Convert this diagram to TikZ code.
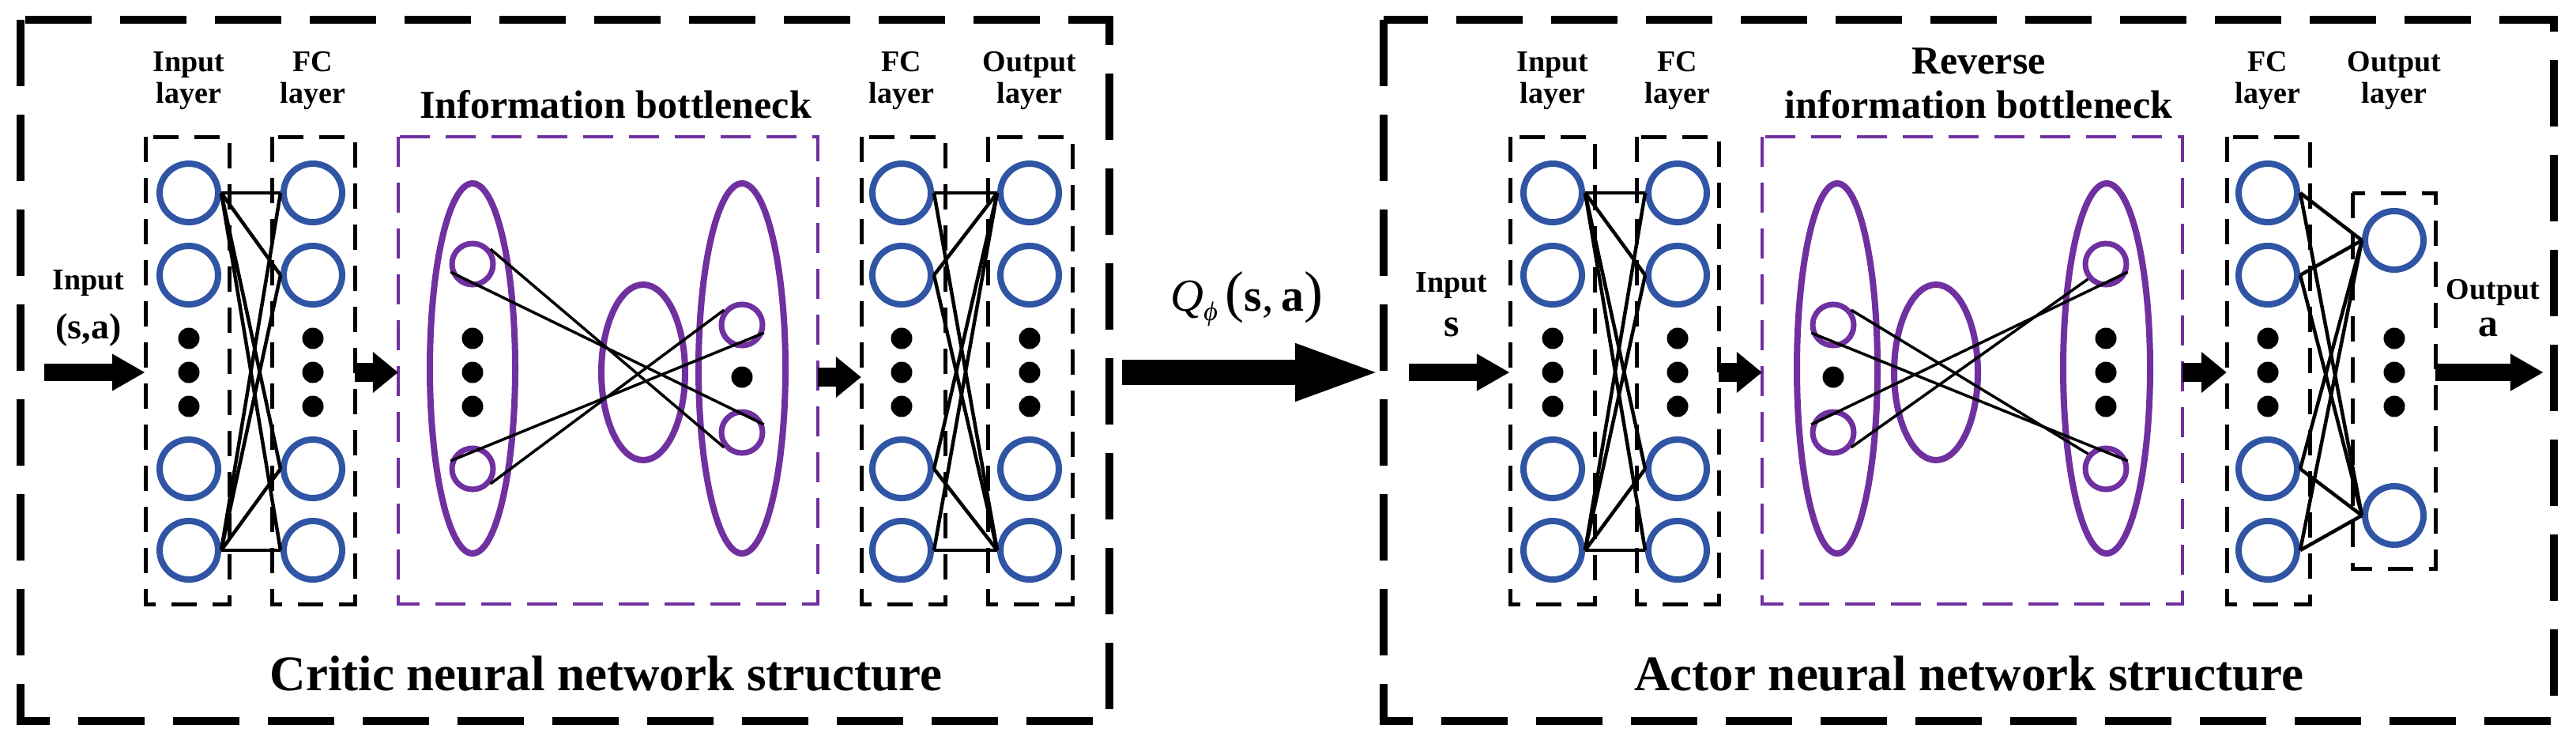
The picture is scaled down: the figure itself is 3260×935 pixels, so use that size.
\documentclass[tikz,border=0pt]{standalone}
\usepackage{fontspec}
\setmainfont{Liberation Serif}
\usetikzlibrary{arrows.meta,shapes.geometric}
\definecolor{nblue}{HTML}{2F55A4}
\definecolor{npurp}{HTML}{7030A0}
\begin{document}
\begin{tikzpicture}[x=1pt,y=-1pt,
  outer/.style={draw,line width=10pt,dash pattern=on 84pt off 36pt},
  layerbox/.style={draw,line width=5pt,dash pattern=on 32pt off 20pt},
  ibbox/.style={draw=npurp,line width=4pt,dash pattern=on 38pt off 20pt},
  neuron/.style={circle,draw=nblue,line width=8pt,minimum size=74pt,inner sep=0pt},
  pneuron/.style={circle,draw=npurp,line width=7pt,minimum size=52pt,inner sep=0pt},
  pell/.style={ellipse,draw=npurp,line width=8pt,inner sep=0pt},
  dot/.style={circle,fill=black,minimum size=27pt,inner sep=0pt},
  conn/.style={line width=4.5pt},
  iconn/.style={line width=3.5pt},
  lbl/.style={font=\bfseries\fontsize{38}{40}\selectfont,align=center,inner sep=0pt},
  ttl/.style={font=\bfseries\fontsize{50}{56}\selectfont,align=center,inner sep=0pt},
  big/.style={font=\bfseries\fontsize{63}{70}\selectfont,inner sep=0pt},
  sarrow/.style={line width=24pt,-{Triangle[length=32pt,width=50pt]}},
  iarrow/.style={line width=22pt,-{Triangle[length=42pt,width=44pt]}},
  barrow/.style={line width=32pt,-{Triangle[length=112pt,width=64pt]}}
]
\useasboundingbox (0,0) rectangle (3260,935);
\fill[white] (0,0) rectangle (3260,935);
% outer boxes
\draw[outer] (26,25) rectangle (1404,912);
\draw[outer] (1751,25) rectangle (3232,912);
% layer boxes
\foreach \n/\a/\b in {cib/184/290, cfb/344/449, cfb2/1090/1196, cob/1250/1357, aib/1911/2018, afb/2071/2175, afb2/2818/2923}{
  \draw[layerbox] (\a,173) rectangle (\b,764);
  \node[inner sep=0,minimum width=\b pt-\a pt,minimum height=591pt] (\n) at ({(\a+\b)/2},468.5) {};
}
\draw[layerbox] (2977,244) rectangle (3082,719);
\node[inner sep=0,minimum width=105pt,minimum height=475pt] (aob) at (3029.5,481.5) {};
% IB boxes
\draw[ibbox] (504,173) rectangle (1035,764);
\node[inner sep=0,minimum width=531pt,minimum height=591pt] (cibb) at (769.5,468.5) {};
\draw[ibbox] (2230,173) rectangle (2762,764);
\node[inner sep=0,minimum width=532pt,minimum height=591pt] (aibb) at (2496,468.5) {};
% neuron columns
\foreach \c/\x in {ci/239, cf/396, cg/1141, co/1303, ai/1965, af/2123, ag/2870}{
  \foreach \i/\y in {1/244,2/348,4/593,5/696}{
    \node[neuron] (\c\i) at (\x,\y) {};
  }
  \foreach \i/\y in {a/428,b/471,c/514}{
    \node[dot] (\c d\i) at (\x,\y) {};
  }
}
\node[neuron] (ao1) at (3030,304) {};
\node[neuron] (ao2) at (3030,652) {};
\foreach \i/\y in {a/428,b/471,c/514}{ \node[dot] (aod\i) at (3030,\y) {}; }
% layer connections
\foreach \L/\R in {ci/cf, ai/af}{
  \foreach \i in {1,5}{
    \foreach \j in {1,2,4,5}{
      \draw[conn] (\L\i.east) -- (\R\j.west);
    }
  }
}
\foreach \i in {1,5}{
  \foreach \j in {1,2,4,5}{
    \draw[conn] (cg\j.east) -- (co\i.west);
  }
}
\foreach \i in {1,2,4,5}{
  \foreach \j in {1,2}{ \draw[conn] (ag\i.east) -- (ao\j.west); }
}
% critic IB
\node[pell,minimum width=108pt,minimum height=468pt] (cE1) at (598,466) {};
\node[pell,minimum width=106pt,minimum height=222pt] (cE2) at (814,471) {};
\node[pell,minimum width=110pt,minimum height=468pt] (cE3) at (939,466) {};
\node[pneuron] (ca1) at (598,334) {};
\node[pneuron] (ca2) at (598,593) {};
\foreach \i/\y in {a/428,b/471,c/514}{ \node[dot] (cad\i) at (598,\y) {}; }
\node[pneuron] (cb1) at (939,411) {};
\node[pneuron] (cb2) at (939,547) {};
\node[dot] (cbd) at (939,477) {};
\draw[iconn] (ca1.40) -- (cb2.220);
\draw[iconn] (ca1.200) -- (cb2.20);
\draw[iconn] (ca2.160) -- (cb1.340);
\draw[iconn] (ca2.320) -- (cb1.140);
% actor IB
\node[pell,minimum width=102pt,minimum height=468pt] (aE1) at (2325,466) {};
\node[pell,minimum width=106pt,minimum height=222pt] (aE2) at (2450,471) {};
\node[pell,minimum width=110pt,minimum height=468pt] (aE3) at (2666,466) {};
\node[pneuron] (aa1) at (2320,411) {};
\node[pneuron] (aa2) at (2320,547) {};
\node[dot] (aad) at (2320,477) {};
\node[pneuron] (ab1) at (2665,334) {};
\node[pneuron] (ab2) at (2665,593) {};
\foreach \i/\y in {a/428,b/471,c/514}{ \node[dot] (abd\i) at (2665,\y) {}; }
\draw[iconn] (aa1.40) -- (ab2.140);
\draw[iconn] (aa1.200) -- (ab2.20);
\draw[iconn] (aa2.160) -- (ab1.340);
\draw[iconn] (aa2.320) -- (ab1.220);
% arrows
\coordinate (cin) at (56,471);
\coordinate (aout) at (3219,471);
\draw[iarrow] (cin) -- (cib.west |- 0,471);
\draw[sarrow] (cfb.east |- 0,471) -- (cibb.west |- 0,471);
\draw[sarrow] (cibb.east |- 0,477) -- (cfb2.west |- 0,477);
\draw[barrow] (1420,471) coordinate (q0) -- (1751,471) coordinate (q1);
\coordinate (ain) at (1783,471);
\draw[iarrow] (ain) -- (aib.west |- 0,471);
\draw[sarrow] (afb.east |- 0,471) -- (aibb.west |- 0,471);
\draw[sarrow] (aibb.east |- 0,471) -- (afb2.west |- 0,471);
\draw[iarrow] (aob.east |- 0,471) -- (aout);
% labels
\node[lbl] (l1) at (239,102) {Input\\layer};
\node[lbl] (l2) at (396,102) {FC\\layer};
\node[lbl] (l3) at (1141,102) {FC\\layer};
\node[lbl] (l4) at (1303,102) {Output\\layer};
\node[lbl] (l5) at (1965,102) {Input\\layer};
\node[lbl] (l6) at (2123,102) {FC\\layer};
\node[lbl] (l7) at (2870,102) {FC\\layer};
\node[lbl] (l8) at (3030,102) {Output\\layer};
\node[lbl] (t1) at (112,358) {Input};
\node[font=\bfseries\fontsize{46}{50}\selectfont,inner sep=0pt] (t2) at (112,417) {(s,a)};
\node[lbl] (t3) at (1837,361) {Input};
\node[font=\bfseries\fontsize{50}{50}\selectfont,inner sep=0pt] (t4) at (1837,414) {s};
\node[lbl] (t5) at (3155,370) {Output};
\node[font=\bfseries\fontsize{50}{50}\selectfont,inner sep=0pt] (t6) at (3149,414) {a};
\node[font=\fontsize{58}{64}\selectfont,inner sep=0pt] (qq) at (1578,378) {\textit{Q}\raisebox{-12pt}{\fontsize{34}{34}\selectfont\textit{ϕ}}\,{\fontsize{72}{72}\selectfont(}\textbf{s},\,\textbf{a}{\fontsize{72}{72}\selectfont)}};
\node[ttl] (ib1) at (779,132) {Information bottleneck};
\node[ttl] (ib2) at (2504,105) {Reverse\\information bottleneck};
\node[big] (c1) at (767,852) {Critic neural network structure};
\node[big] (c2) at (2492,852) {Actor neural network structure};
\end{tikzpicture}
\end{document}
